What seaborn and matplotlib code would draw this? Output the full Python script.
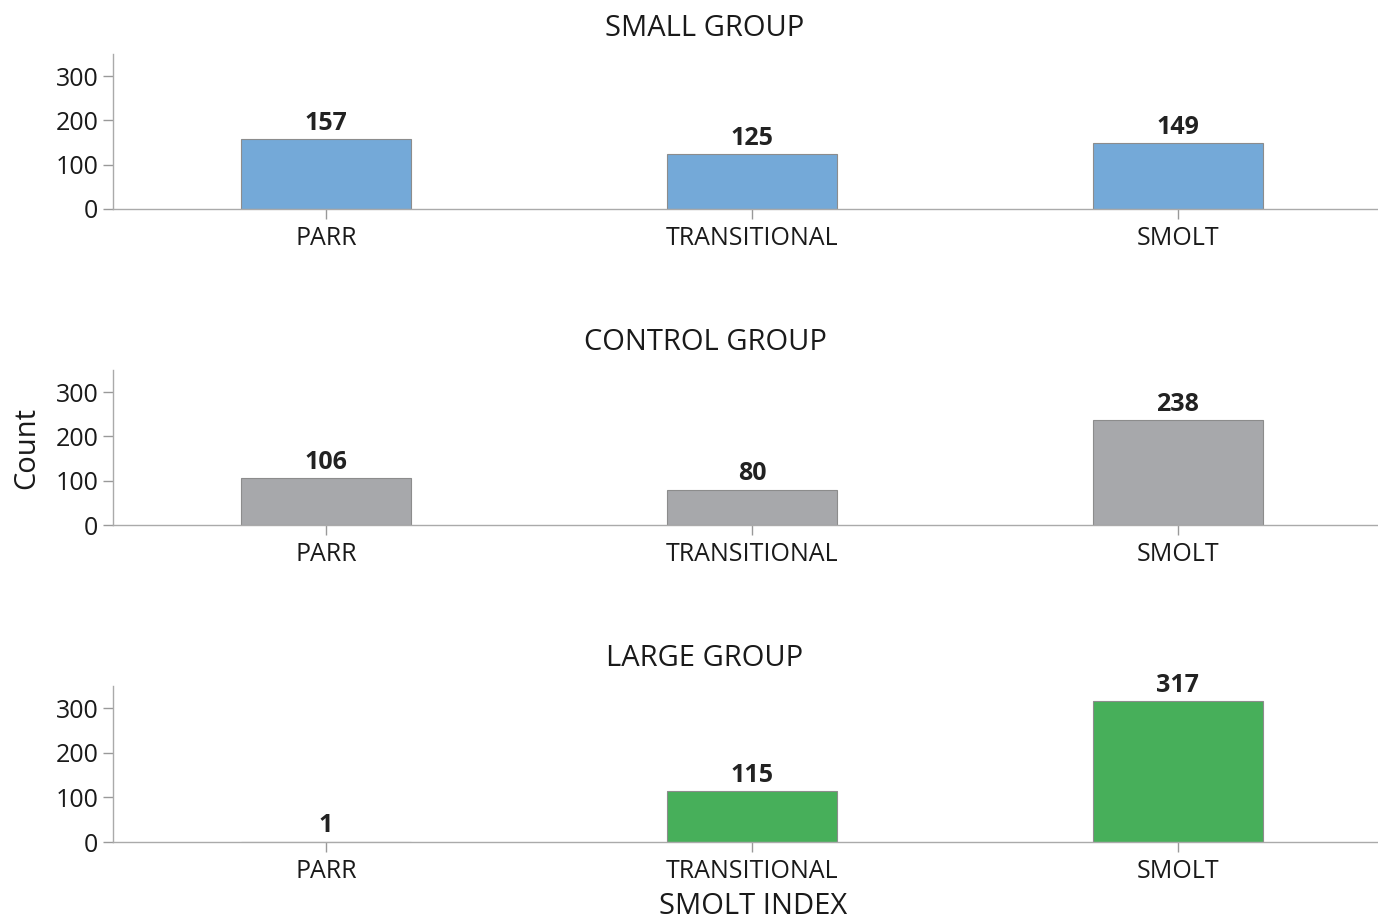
import matplotlib
matplotlib.use("Agg")
import matplotlib.pyplot as plt
import seaborn as sns
import pandas as pd

categories = ["PARR", "TRANSITIONAL", "SMOLT"]
groups = ["SMALL GROUP", "CONTROL GROUP", "LARGE GROUP"]
small_counts = [157, 125, 149]
control_counts = [106, 80, 238]
large_counts = [1, 115, 317]
colors = ["#74A9D8", "#A7A8AB", "#47AF5A"]
yticks = [0, 100, 200, 300]

sns.set_style("white")
plt.rcParams["font.family"] = ["Open Sans", "DejaVu Sans"]

fig = plt.figure(figsize=(13.78, 9.21), dpi=100)
W, H = 1378, 921
# axes boxes in pixels: left, top, right, bottom
boxes = [(113, 54, 1378, 209), (113, 370, 1378, 525), (113, 686, 1378, 842)]
title_y = [29, 343, 659]

for i, (vals, name) in enumerate(zip([small_counts, control_counts, large_counts], groups)):
    l, t, r, b = boxes[i]
    ax = fig.add_axes([l / W, 1 - b / H, (r - l) / W, (b - t) / H])
    df = pd.DataFrame({"stage": categories, "count": vals})
    sns.barplot(data=df, x="stage", y="count", color=colors[i], width=0.4,
                edgecolor="#8c8c8c", linewidth=0.8, saturation=1, ax=ax)
    for j, v in enumerate(vals):
        ax.text(j, v + 7, str(v), ha="center", va="bottom", fontsize=18,
                fontweight="bold", color="#222222")
    ax.set_xlim(-0.5, 2.47)
    ax.set_ylim(0, 350)
    ax.set_yticks(yticks)
    ax.set_xlabel("")
    ax.set_ylabel("")
    ax.tick_params(axis="both", labelsize=18, colors="#999999", labelcolor="#1a1a1a",
                   length=7, width=1, left=True, bottom=True)
    ax.tick_params(axis="x", pad=5)
    for s in ["top", "right"]:
        ax.spines[s].set_visible(False)
    for s in ["left", "bottom"]:
        ax.spines[s].set_color("#aaaaaa")
        ax.spines[s].set_linewidth(1)
    fig.text(705 / W, 1 - title_y[i] / H, name, ha="center", va="center",
             fontsize=21, color="#1a1a1a")

fig.text(27 / W, 1 - 448 / H, "Count", rotation=90, ha="center", va="center",
         fontsize=21, color="#1a1a1a")
fig.text(753 / W, 1 - 906 / H, "SMOLT INDEX", ha="center", va="center",
         fontsize=21, color="#1a1a1a")

fig.savefig("out.png", dpi=100)
